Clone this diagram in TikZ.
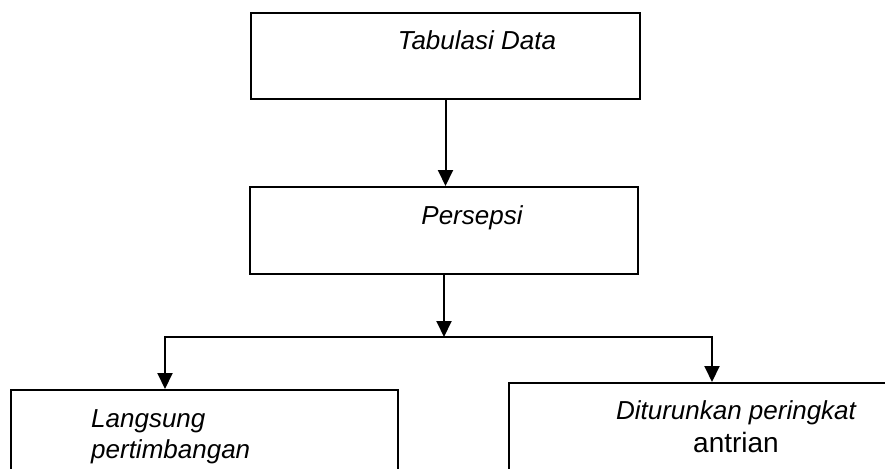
\documentclass[tikz,border=0pt]{standalone}
\usepackage{fontspec}
\setmainfont{Liberation Sans}
\usetikzlibrary{arrows.meta}
\tikzset{
  box/.style={draw=black, line width=2pt, inner sep=0pt},
  conn/.style={draw=black, line width=2pt},
  arr/.style={conn, -{Triangle[length=16pt, width=15pt]}},
  lbl/.style={font=\fontsize{26}{31}\selectfont\itshape, inner sep=0pt}
}

\begin{document}
\begin{tikzpicture}[x=1pt, y=-1pt]
  \useasboundingbox (0,0) rectangle (885,468);
  \clip (0,0) rectangle (885,468);

  \node[box, minimum width=389pt, minimum height=86pt] (tab) at (445.5,56) {};
  \node[box, minimum width=388pt, minimum height=87pt] (per) at (444,230.5) {};
  \node[box, minimum width=387pt, minimum height=160pt] (lang) at (204.5,470) {};
  \node[box, minimum width=416pt, minimum height=160pt] (turun) at (717,463) {};

  \node[lbl, anchor=base] (tabtxt) at (477,50) {Tabulasi Data};
  \node[lbl, anchor=base] (pertxt) at (472,224) {Persepsi};
  \node[lbl, align=left, anchor=north west] (langtxt) at (91,409) {Langsung\\pertimbangan};
  \node[lbl, align=center, anchor=north] (turuntxt) at (736,400)
    {Diturunkan peringkat\\[2pt]{\upshape\fontsize{28}{31}\selectfont antrian}};

  \coordinate (split) at (444,337);
  \coordinate (splitL) at (165,337);
  \coordinate (splitR) at (712,337);

  \draw[arr] (tab.south) -- (tab.south |- per.north);
  \draw[arr] (per.south) -- (split);
  \draw[arr] (splitR) -- (splitL) -- (splitL |- lang.north);
  \draw[arr] (splitL) -- (splitR) -- (splitR |- turun.north);
\end{tikzpicture}
\end{document}
